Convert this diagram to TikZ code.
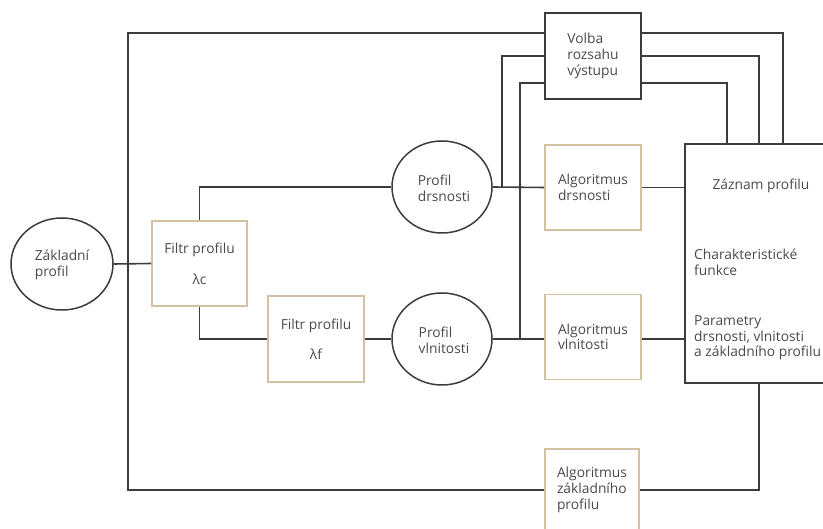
\documentclass[tikz,border=0pt]{standalone}
\usepackage{fontspec}
\setmainfont{Open Sans}
\usetikzlibrary{calc,shapes.geometric}
\definecolor{ln}{HTML}{3C3C3C}
\definecolor{tan}{HTML}{D2C2A2}
\definecolor{tx}{HTML}{4A4A4A}
\begin{document}
\begin{tikzpicture}[x=1pt,y=-1pt,
  every node/.style={font=\fontsize{13.8}{15.6}\selectfont, text=tx},
  conn/.style={draw=ln, line width=1.6pt},
  blackbox/.style={draw=ln, line width=1.6pt, fill=white, minimum width=96pt, minimum height=86pt, align=left, inner sep=0pt},
  tanbox/.style={draw=tan, line width=1.6pt, fill=white, minimum width=96pt, minimum height=85pt, align=left, inner sep=0pt},
  ellbox/.style={draw=ln, line width=1.5pt, ellipse, minimum width=100pt, minimum height=92pt, inner sep=0pt},
  lbl/.style={align=left, inner sep=0pt}
]
\useasboundingbox (0,0) rectangle (823,529);
% nodes
\node[blackbox] (volba) at (593,56) {Volba\\rozsahu\\výstupu};
\node[draw=ln, line width=1.6pt, fill=white, minimum width=145pt, minimum height=239pt, inner sep=0pt] (zaznam) at (757.5,263.5) {};
\node[lbl, anchor=center] (zt1) at (761,186) {Záznam profilu};
\node[lbl, anchor=west] (zt2) at (694,262) {Charakteristické\\funkce};
\node[lbl, anchor=west] (zt3) at (694,338) {Parametry\\drsnosti, vlnitosti\\a základního profilu};
\node[tanbox] (algd) at (593,187.5) {Algoritmus\\drsnosti};
\node[tanbox] (algv) at (593,337) {Algoritmus\\vlnitosti};
\node[tanbox, minimum width=94pt, minimum height=82pt] (algz) at (592,490) {Algoritmus\\základního\\profilu};
\node[ellbox, minimum width=102pt] (zakl) at (62,264) {};
\node[lbl] (zakltx) at (62,265) {Základní\\profil};
\node[ellbox] (drs) at (442,187) {};
\node[lbl] (drstx) at (444,188) {Profil\\drsnosti};
\node[ellbox] (vln) at (442,339) {};
\node[lbl] (vlntx) at (444,340) {Profil\\vlnitosti};
\node[tanbox, minimum width=95pt, align=center] (filc) at (199.5,263.5) {Filtr profilu\\[15pt]λc};
\node[tanbox, minimum width=96pt, minimum height=86pt, align=center] (filf) at (316,339) {Filtr profilu\\[14pt]λf};
% helper coordinates
\coordinate (y33) at (0,33);
\coordinate (y56) at (0,56);
\coordinate (y83) at (0,83);
\coordinate (y187) at (0,187);
\coordinate (y340) at (0,340);
\coordinate (xo) at (128,0);
\coordinate (xa) at (502,0);
\coordinate (xb) at (520,0);
\coordinate (xr1) at (727,0);
\coordinate (xr2) at (759,0);
\coordinate (xr3) at (783,0);
\coordinate (yb) at (0,490);
% connectors
\draw[conn] (volba.west |- y33) -- (xo |- y33) -- (xo |- yb) -- (algz.west |- yb);
\draw[conn] (algz.east |- yb) -| (xr2 |- zaznam.south);
\draw[conn] (zakl.east) -- (filc.west);
\draw[conn] (volba.east |- y33) -| (xr3 |- zaznam.north);
\draw[conn] (volba.east |- y56) -| (xr2 |- zaznam.north);
\draw[conn] (volba.east |- y83) -| (xr1 |- zaznam.north);
\draw[conn] (volba.west |- y56) -| (xa |- y187);
\draw[conn] (volba.west |- y83) -| (xb |- y340);
\draw[conn] (filc.north) |- (drs.west);
\draw[conn] (filc.south) |- (filf.west);
\draw[conn] (filf.east) -- (vln.west);
\draw[conn] (drs.east) -- (algd.west);
\draw[conn] (algd.east) -- (zaznam.west |- algd.east);
\draw[conn] (vln.east) -- (algv.west |- vln.east);
\draw[conn] (algv.east |- vln.east) -- (zaznam.west |- vln.east);
\end{tikzpicture}
\end{document}
